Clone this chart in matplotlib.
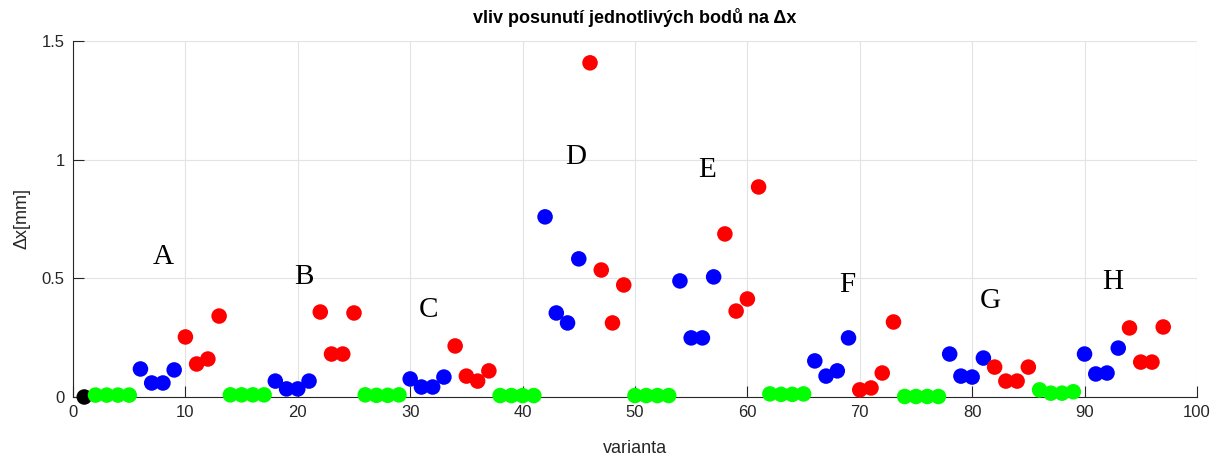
"""Vliv posunuti jednotlivych bodu na dx - scatter by varianta."""
import matplotlib
matplotlib.use("Agg")
import matplotlib.pyplot as plt
import numpy as np

plt.rcParams["font.family"] = ["Liberation Sans", "DejaVu Sans"]

# varianta 1..97
VARIANTA = np.arange(1, 98)

# dx [mm]
DX = [
    0.000,
    0.008, 0.008, 0.008, 0.008,
    0.118, 0.059, 0.059, 0.114,
    0.253, 0.139, 0.160, 0.341,
    0.009, 0.009, 0.009, 0.009,
    0.067, 0.034, 0.034, 0.067,
    0.358, 0.181, 0.181, 0.354,
    0.009, 0.007, 0.007, 0.009,
    0.076, 0.042, 0.042, 0.084,
    0.215, 0.088, 0.067, 0.110,
    0.006, 0.006, 0.006, 0.006,
    0.759, 0.354, 0.312, 0.582,
    1.408, 0.535, 0.312, 0.472,
    0.006, 0.006, 0.006, 0.006,
    0.489, 0.249, 0.249, 0.506,
    0.687, 0.362, 0.413, 0.885,
    0.013, 0.011, 0.011, 0.013,
    0.152, 0.088, 0.110, 0.249,
    0.030, 0.038, 0.101, 0.316,
    0.002, 0.002, 0.002, 0.002,
    0.181, 0.088, 0.084, 0.164,
    0.126, 0.067, 0.067, 0.126,
    0.030, 0.016, 0.016, 0.022,
    0.181, 0.097, 0.101, 0.206,
    0.291, 0.147, 0.147, 0.295,
]

# colour group of each point: k = base, g / b / r = the three shift types
GROUP = "k" + "gggg" + ("bbbbrrrrgggg" * 8)[:-4]
COLORS = {"k": "#000000", "g": "#00FF00", "b": "#0000FF", "r": "#FF0000"}

# point labels A..H
LETTERS = ["A", "B", "C", "D", "E", "F", "G", "H"]
LETTER_X = [8.0, 20.5, 31.6, 44.7, 56.4, 68.9, 81.6, 92.5]
LETTER_Y = [0.59, 0.506, 0.367, 1.01, 0.957, 0.472, 0.405, 0.485]


def main():
    fig = plt.figure(figsize=(12.19, 4.55), dpi=100)
    ax = fig.add_axes([0.0599, 0.1275, 0.922, 0.7824])

    cols = [COLORS[g] for g in GROUP]
    ax.scatter(VARIANTA, DX, s=125, c=cols, edgecolors="none", zorder=3,
               clip_on=False)

    for t, x, y in zip(LETTERS, LETTER_X, LETTER_Y):
        ax.text(x, y, t, fontsize=21, family="Liberation Serif",
                ha="center", va="center", zorder=4)

    ax.set_xlim(0, 100)
    ax.set_ylim(0, 1.5)
    ax.set_xticks(np.arange(0, 101, 10))
    ax.set_yticks([0, 0.5, 1, 1.5])
    ax.set_yticklabels(["0", "0.5", "1", "1.5"])

    ax.grid(True, color="#E3E3E3", linewidth=0.8, zorder=0)
    ax.set_axisbelow(True)
    for s in ("top", "right"):
        ax.spines[s].set_visible(False)
    for s in ("left", "bottom"):
        ax.spines[s].set_color("#262626")
        ax.spines[s].set_linewidth(0.8)
    ax.tick_params(direction="in", length=8, width=0.8, colors="#262626",
                   labelsize=12, pad=6)

    ax.set_xlabel("varianta", fontsize=13, color="#262626", labelpad=14)
    ax.set_ylabel("Δx[mm]", fontsize=13, color="#262626", labelpad=8)
    ax.set_title("vliv posunutí jednotlivých bodů na Δx", fontsize=13,
                 fontweight="bold", pad=13)

    fig.savefig("out.png", dpi=100)


if __name__ == "__main__":
    main()
